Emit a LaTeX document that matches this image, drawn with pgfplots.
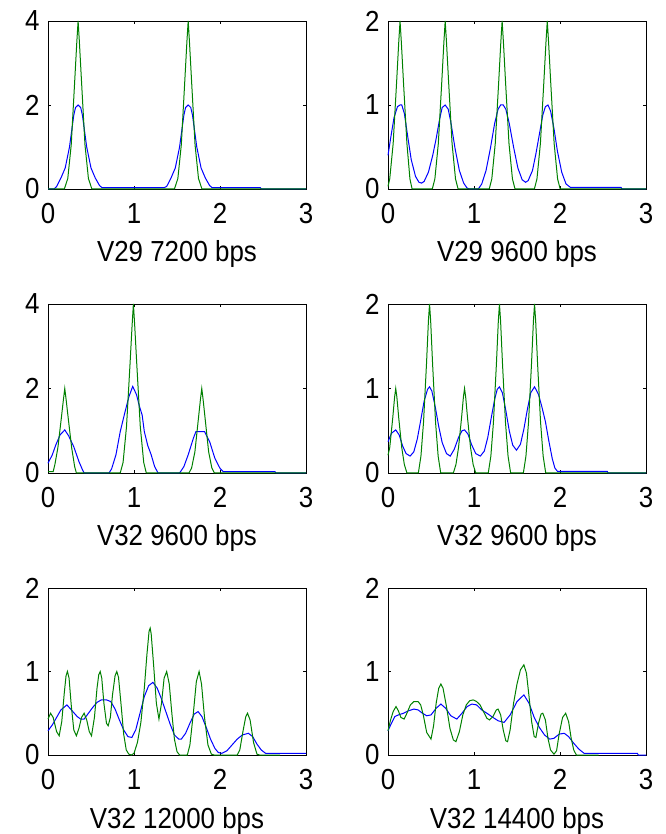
\documentclass[border=0pt]{standalone}
\usepackage{fontspec}
\setmainfont{Liberation Sans}
\usepackage{graphicx}
\usepackage{pgfplots}
\pgfplotsset{compat=1.18}
\definecolor{mblue}{rgb}{0,0,1}
\definecolor{mgreen}{rgb}{0,0.5,0}
\newcommand{\tall}[1]{\scalebox{1}[1.12]{#1}}
\pgfplotsset{
  panel/.style={
    scale only axis, width=258bp, height=168bp,
    anchor=south west,
    xmin=0, xmax=3, ymin=0,
    xtick={0,1,2,3},
    tick align=inside, major tick length=3bp,
    clip=false,
    axis line style={line width=0.8bp},
    every tick/.style={black, line width=0.8bp},
    tick label style={font=\fontsize{26}{30}\selectfont},
    /pgf/number format/assume math mode=true,
    xticklabel={\tall{\pgfmathprintnumber{\tick}}},
    yticklabel={\tall{\pgfmathprintnumber{\tick}}},
    xticklabel shift=11bp, yticklabel shift=5bp,
    xlabel style={font=\fontsize{26}{30}\selectfont,
      at={(axis description cs:0.5,0)}, anchor=base, yshift=-73bp},
  },
  bl/.style={mblue, line width=1bp},
  gr/.style={mgreen, line width=1bp},
}

\begin{document}
\begin{tikzpicture}
\useasboundingbox (0,0) rectangle (666bp,834bp);

% row 1, left
\begin{axis}[panel, at={(48bp,645bp)}, ymax=4, ytick={0,2,4}, xlabel={\tall{V29 7200 bps}}]
\addplot[bl] coordinates {
  (0,0) (0.07,0) (0.1,0.06) (0.15,0.26) (0.2,0.5) (0.25,1.0) (0.3,1.76) (0.32,1.94)
  (0.35,2) (0.38,1.94) (0.4,1.76) (0.45,1.0) (0.5,0.5) (0.55,0.26) (0.6,0.08) (0.63,0.03)
  (1.35,0.03) (1.38,0.06) (1.43,0.26) (1.48,0.5) (1.53,1.0) (1.58,1.76) (1.6,1.94)
  (1.63,2) (1.66,1.94) (1.68,1.76) (1.73,1.0) (1.78,0.5) (1.83,0.26) (1.88,0.08) (1.91,0.03)
  (2.47,0.03) (2.48,0) (3,0)};
\addplot[gr] coordinates {
  (0,0) (0.19,0) (0.23,0.25) (0.27,1.05) (0.31,2.55) (0.335,3.5) (0.35,4) (0.365,3.5)
  (0.39,2.55) (0.43,1.05) (0.47,0.25) (0.51,0)
  (1.47,0) (1.51,0.25) (1.55,1.05) (1.59,2.55) (1.615,3.5) (1.63,4) (1.645,3.5)
  (1.67,2.55) (1.71,1.05) (1.75,0.25) (1.79,0) (3,0)};
\end{axis}

% row 1, right
\begin{axis}[panel, at={(388bp,645bp)}, ymax=2, ytick={0,1,2}, xlabel={\tall{V29 9600 bps}}]
\addplot[bl] coordinates {
  (0,0.4) (0.03,0.6) (0.07,0.85) (0.11,0.98) (0.14,1) (0.16,1) (0.19,0.9) (0.23,0.62)
  (0.27,0.35) (0.32,0.15) (0.36,0.08) (0.39,0.07) (0.42,0.09) (0.47,0.2) (0.52,0.4)
  (0.56,0.6) (0.6,0.83) (0.63,0.97) (0.665,1) (0.7,0.95) (0.73,0.8) (0.78,0.48)
  (0.83,0.22) (0.88,0.07) (0.92,0.01) (0.95,0) (1.05,0) (1.09,0.06) (1.14,0.22)
  (1.19,0.48) (1.24,0.78) (1.28,0.95) (1.31,1) (1.34,1) (1.37,0.95) (1.41,0.78)
  (1.46,0.5) (1.51,0.25) (1.56,0.11) (1.6,0.08) (1.63,0.1) (1.68,0.22) (1.72,0.42)
  (1.76,0.65) (1.8,0.88) (1.83,0.98) (1.86,1) (1.89,0.93) (1.93,0.72) (1.97,0.45)
  (2.02,0.2) (2.07,0.06) (2.12,0.02) (2.71,0.02) (2.72,0) (3,0)};
\addplot[gr] coordinates {
  (0,0.03) (0.02,0.12) (0.06,0.54) (0.1,1.27) (0.125,1.75) (0.14,2) (0.155,1.75)
  (0.18,1.27) (0.22,0.54) (0.255,0.12) (0.28,0)
  (0.515,0) (0.545,0.12) (0.585,0.54) (0.625,1.27) (0.65,1.75) (0.665,2) (0.68,1.75)
  (0.705,1.27) (0.745,0.54) (0.785,0.12) (0.815,0)
  (1.177,0) (1.207,0.12) (1.247,0.54) (1.287,1.27) (1.312,1.75) (1.327,2) (1.342,1.75)
  (1.367,1.27) (1.407,0.54) (1.447,0.12) (1.477,0)
  (1.702,0) (1.732,0.12) (1.772,0.54) (1.812,1.27) (1.837,1.75) (1.852,2) (1.867,1.75)
  (1.892,1.27) (1.932,0.54) (1.972,0.12) (2.002,0) (3,0)};
\end{axis}

% row 2, left
\begin{axis}[panel, at={(48bp,361bp)}, height=169bp, ymax=4, ytick={0,2,4}, xlabel={\tall{V32 9600 bps}}]
\addplot[bl] coordinates {
  (0,0.23) (0.05,0.43) (0.09,0.66) (0.14,0.9) (0.195,1.02) (0.24,0.88) (0.3,0.62)
  (0.36,0.27) (0.4,0.08) (0.42,0) (0.71,0) (0.74,0.1) (0.79,0.43) (0.84,0.98)
  (0.89,1.4) (0.94,1.8) (0.985,2.05) (1.03,1.85) (1.06,1.6) (1.095,1.37) (1.12,0.98)
  (1.16,0.65) (1.2,0.43) (1.24,0.15) (1.28,0) (1.53,0) (1.58,0.15) (1.63,0.43)
  (1.69,0.82) (1.72,0.98) (1.82,0.98) (1.88,0.74) (1.94,0.35) (2.0,0.11) (2.04,0.03)
  (2.64,0.03) (2.65,0) (3,0)};
\addplot[gr] coordinates {
  (0,0.03) (0.06,0.03) (0.08,0.2) (0.115,0.6) (0.155,1.3) (0.18,1.75) (0.195,2)
  (0.21,1.75) (0.235,1.3) (0.275,0.6) (0.31,0.15) (0.33,0)
  (0.84,0) (0.873,0.25) (0.913,1.1) (0.953,2.55) (0.978,3.5) (0.993,4) (1.008,3.5)
  (1.033,2.55) (1.073,1.1) (1.113,0.25) (1.143,0)
  (1.64,0) (1.67,0.12) (1.708,0.5) (1.748,1.27) (1.773,1.75) (1.788,2) (1.803,1.75)
  (1.828,1.27) (1.868,0.5) (1.905,0.12) (1.935,0) (3,0)};
\end{axis}

% row 2, right
\begin{axis}[panel, at={(388bp,361bp)}, height=169bp, ymax=2, ytick={0,1,2}, xlabel={\tall{V32 9600 bps}}]
\addplot[bl] coordinates {
  (0,0.37) (0.04,0.47) (0.09,0.51) (0.13,0.45) (0.17,0.32) (0.21,0.23) (0.257,0.2)
  (0.3,0.25) (0.34,0.4) (0.38,0.62) (0.42,0.85) (0.46,0.99) (0.483,1.02) (0.51,0.97)
  (0.55,0.78) (0.59,0.55) (0.63,0.36) (0.68,0.23) (0.724,0.2) (0.77,0.28) (0.82,0.42)
  (0.86,0.5) (0.89,0.51) (0.93,0.46) (0.97,0.34) (1.02,0.23) (1.074,0.2) (1.12,0.26)
  (1.16,0.42) (1.2,0.65) (1.24,0.87) (1.27,0.99) (1.296,1.02) (1.33,0.95) (1.37,0.74)
  (1.41,0.5) (1.45,0.33) (1.494,0.27) (1.54,0.34) (1.58,0.52) (1.62,0.75) (1.66,0.95)
  (1.704,1.02) (1.75,0.93) (1.79,0.78) (1.83,0.61) (1.87,0.38) (1.91,0.17) (1.94,0.06)
  (1.97,0.02) (2.55,0.02) (2.56,0) (3,0)};
\addplot[gr] coordinates {
  (0,0.21) (0.02,0.3) (0.055,0.65) (0.077,0.9) (0.09,1) (0.103,0.9) (0.125,0.65)
  (0.16,0.3) (0.19,0.1) (0.22,0)
  (0.353,0) (0.383,0.2) (0.413,0.6) (0.448,1.3) (0.47,1.8) (0.483,2) (0.496,1.8)
  (0.518,1.3) (0.553,0.6) (0.583,0.2) (0.613,0)
  (0.76,0) (0.79,0.1) (0.82,0.3) (0.855,0.65) (0.877,0.9) (0.89,1) (0.903,0.9)
  (0.925,0.65) (0.96,0.3) (0.99,0.1) (1.02,0)
  (1.166,0) (1.196,0.2) (1.226,0.6) (1.261,1.3) (1.283,1.8) (1.296,2) (1.309,1.8)
  (1.331,1.3) (1.366,0.6) (1.396,0.2) (1.426,0)
  (1.574,0) (1.604,0.2) (1.634,0.6) (1.669,1.3) (1.691,1.8) (1.704,2) (1.717,1.8)
  (1.739,1.3) (1.774,0.6) (1.804,0.2) (1.834,0) (3,0)};
\end{axis}

% row 3, left
\begin{axis}[panel, at={(48bp,79bp)}, height=167bp, ymax=2, ytick={0,1,2}, xlabel={\tall{V32 12000 bps}}]
\addplot[bl] coordinates {
  (0,0.29) (0.05,0.36) (0.1,0.45) (0.15,0.54) (0.22,0.6) (0.28,0.53) (0.34,0.46)
  (0.38,0.43) (0.42,0.43) (0.47,0.5) (0.52,0.57) (0.57,0.63) (0.62,0.66) (0.68,0.66)
  (0.73,0.64) (0.78,0.55) (0.83,0.42) (0.88,0.3) (0.93,0.22) (0.975,0.21) (1.02,0.3)
  (1.07,0.5) (1.12,0.7) (1.17,0.83) (1.22,0.87) (1.27,0.8) (1.32,0.67) (1.37,0.52)
  (1.42,0.37) (1.47,0.24) (1.52,0.19) (1.55,0.19) (1.6,0.26) (1.65,0.38) (1.7,0.49)
  (1.745,0.52) (1.79,0.46) (1.84,0.33) (1.89,0.19) (1.94,0.08) (1.98,0.03) (2.02,0.02)
  (2.08,0.05) (2.14,0.12) (2.2,0.19) (2.26,0.24) (2.33,0.26) (2.38,0.22) (2.43,0.13)
  (2.48,0.06) (2.53,0.02) (3,0.02)};
\addplot[gr] coordinates {
  (0,0.43) (0.03,0.5) (0.06,0.45) (0.1,0.28) (0.13,0.23) (0.16,0.4) (0.19,0.75)
  (0.21,0.95) (0.226,1.0) (0.245,0.92) (0.27,0.6) (0.3,0.3) (0.33,0.23) (0.36,0.32)
  (0.39,0.45) (0.42,0.5) (0.45,0.42) (0.48,0.28) (0.506,0.23) (0.54,0.45) (0.57,0.8)
  (0.59,0.96) (0.607,1.0) (0.625,0.92) (0.65,0.62) (0.68,0.38) (0.7,0.35) (0.725,0.45)
  (0.75,0.72) (0.78,0.95) (0.8,1.0) (0.82,0.93) (0.85,0.6) (0.88,0.25) (0.91,0.06)
  (0.94,0.01) (0.97,0.0) (1.0,0.02) (1.04,0.15) (1.08,0.39) (1.12,0.8) (1.15,1.2)
  (1.175,1.48) (1.188,1.52) (1.2,1.45) (1.23,1.05) (1.26,0.62) (1.29,0.43) (1.32,0.62)
  (1.35,0.92) (1.38,1.0) (1.41,0.85) (1.44,0.5) (1.47,0.19) (1.5,0.04) (1.53,0.0)
  (1.62,0.0) (1.65,0.12) (1.69,0.5) (1.725,0.88) (1.757,1.0) (1.785,0.85) (1.82,0.45)
  (1.86,0.12) (1.9,0.01) (1.93,0) (2.2,0) (2.23,0.06) (2.27,0.3) (2.3,0.46) (2.32,0.5)
  (2.35,0.42) (2.39,0.15) (2.43,0.01) (2.46,0) (2.7,0)};
\end{axis}

% row 3, right
\begin{axis}[panel, at={(388bp,79bp)}, height=167bp, ymax=2, ytick={0,1,2}, xlabel={\tall{V32 14400 bps}}]
\addplot[bl] coordinates {
  (0,0.29) (0.04,0.38) (0.08,0.46) (0.12,0.48) (0.18,0.5) (0.24,0.53) (0.3,0.55)
  (0.35,0.54) (0.4,0.5) (0.45,0.47) (0.5,0.48) (0.56,0.56) (0.615,0.61) (0.67,0.56)
  (0.73,0.47) (0.8,0.43) (0.86,0.5) (0.92,0.58) (0.975,0.61) (1.03,0.6) (1.09,0.54)
  (1.15,0.5) (1.22,0.45) (1.28,0.41) (1.35,0.39) (1.42,0.48) (1.5,0.64) (1.58,0.72)
  (1.64,0.62) (1.7,0.45) (1.76,0.33) (1.82,0.24) (1.88,0.19) (1.93,0.2) (1.99,0.25)
  (2.05,0.26) (2.1,0.22) (2.16,0.14) (2.22,0.07) (2.28,0.02) (2.9,0.02) (2.91,0) (3,0)};
\addplot[gr] coordinates {
  (0,0.29) (0.03,0.42) (0.06,0.52) (0.093,0.58) (0.12,0.53) (0.15,0.45) (0.187,0.43)
  (0.22,0.5) (0.26,0.6) (0.3,0.64) (0.35,0.64) (0.38,0.6) (0.41,0.48) (0.45,0.27)
  (0.5,0.19) (0.53,0.35) (0.56,0.62) (0.59,0.8) (0.615,0.85) (0.64,0.8) (0.68,0.58)
  (0.72,0.32) (0.76,0.18) (0.79,0.16) (0.83,0.28) (0.87,0.48) (0.91,0.6) (0.95,0.65)
  (0.99,0.66) (1.03,0.64) (1.07,0.6) (1.11,0.52) (1.15,0.44) (1.18,0.42) (1.22,0.46)
  (1.26,0.54) (1.28,0.55) (1.31,0.48) (1.34,0.3) (1.37,0.17) (1.39,0.16) (1.42,0.3)
  (1.46,0.62) (1.5,0.85) (1.54,1.02) (1.58,1.08) (1.61,0.98) (1.64,0.7) (1.67,0.4)
  (1.7,0.22) (1.72,0.21) (1.75,0.38) (1.78,0.49) (1.8,0.5) (1.83,0.42) (1.86,0.2)
  (1.89,0.06) (1.93,0.01) (1.96,0.05) (1.99,0.25) (2.03,0.45) (2.066,0.5) (2.1,0.4)
  (2.13,0.2) (2.16,0.06) (2.19,0) (2.45,0)};
\end{axis}
\end{tikzpicture}
\end{document}
